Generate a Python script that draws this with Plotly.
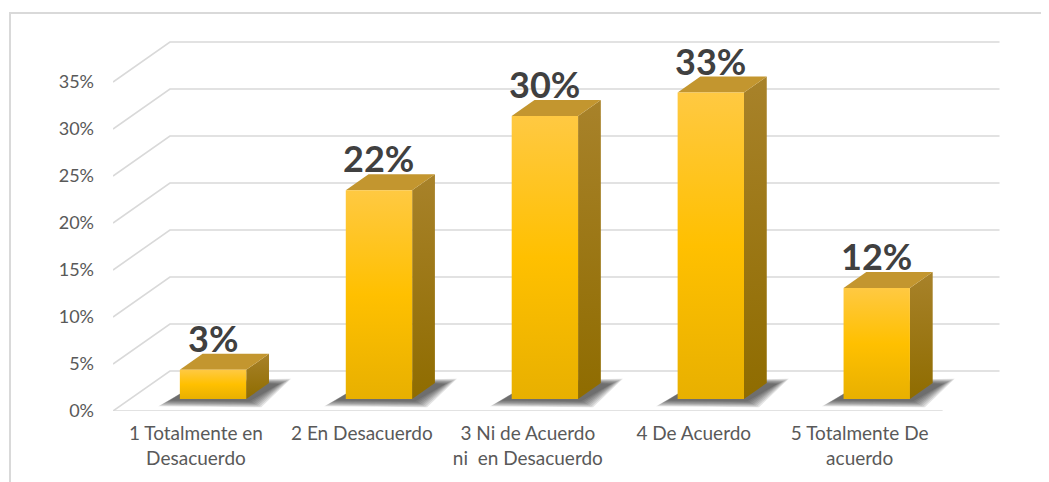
import plotly.graph_objects as go

# ---- data ----
categories = ["1 Totalmente en<br>Desacuerdo", "2 En Desacuerdo",
              "3 Ni de Acuerdo<br>ni  en Desacuerdo", "4 De Acuerdo",
              "5 Totalmente De<br>acuerdo"]
values = [3.1, 22.2, 30.1, 32.6, 11.8]          # percent
y_ticks = [0, 5, 10, 15, 20, 25, 30, 35]
y_tick_labels = [f"{v}%" for v in y_ticks]

# ---- 3D geometry (in axis units) ----
DX = 0.343        # depth offset along x (category units)
DY = 4.255        # depth offset along y (percent units)
BAR_W = 0.4       # bar width (fraction of a category)
D0, D1 = 0.3, 0.7 # bar depth span
n = len(categories)
XMAX = 5.4
YMAX = 40

FONT = "Lato"
TXT = "#595959"
GRID = "#d9d9d9"

fig = go.Figure()

# gridlines: diagonal on left wall + horizontal on back wall
gx, gy = [], []
for v in y_ticks:
    gx += [0, DX, n + DX, None]
    gy += [v, v + DY, v + DY, None]
gx += [0, n, None]
gy += [0, 0, None]
fig.add_trace(go.Scatter(x=gx, y=gy, mode="lines",
                         line=dict(color=GRID, width=1.6),
                         hoverinfo="skip", showlegend=False))

d = (D1 - D0) * DX
e = (D1 - D0) * DY
for i, v in enumerate(values):
    c = i + 0.5 + D0 * DX
    x0, x1 = c - BAR_W / 2, c + BAR_W / 2
    yb = D0 * DY
    yt = yb + v
    # soft (blurred) shadow on the floor
    for s in [0.07, 0.06, 0.05, 0.04, 0.03, 0.02, 0.01, 0.0]:
        sx = [x0 - 0.06 - s, x1 + 0.02 + s, x1 + 0.2 + s, x0 + d]
        sy = [yb - 0.15 - s * 9, yb - 0.25 - s * 9, yb + 1.6 + s * 8, yb + e + 0.3]
        fig.add_trace(go.Scatter(x=sx + [sx[0]], y=sy + [sy[0]], mode="lines",
                                 fill="toself", fillcolor="rgba(30,30,30,0.12)",
                                 line=dict(width=0), hoverinfo="skip",
                                 showlegend=False))
    # side face
    fig.add_trace(go.Scatter(
        x=[x1, x1 + d, x1 + d, x1, x1], y=[yb, yb + e, yt + e, yt, yb],
        mode="lines", fill="toself", line=dict(width=0),
        fillgradient=dict(type="vertical", start=yb, stop=yt + e,
                          colorscale=[[0, "#8f6c00"], [1, "#a8822a"]]),
        hoverinfo="skip", showlegend=False))
    # top face
    fig.add_trace(go.Scatter(
        x=[x0, x1, x1 + d, x0 + d, x0], y=[yt, yt, yt + e, yt + e, yt],
        mode="lines", fill="toself", fillcolor="#c3962f", line=dict(width=0),
        hoverinfo="skip", showlegend=False))
    # front face
    fig.add_trace(go.Scatter(
        x=[x0, x1, x1, x0, x0], y=[yb, yb, yt, yt, yb],
        mode="lines", fill="toself", line=dict(width=0),
        fillgradient=dict(type="vertical", start=yb, stop=yt,
                          colorscale=[[0, "#e8b000"], [0.5, "#ffc000"], [1, "#ffc942"]]),
        hoverinfo="skip", showlegend=False))
    # data label
    fig.add_annotation(x=c, y=yt + e, text=f"<b>{round(v):d}%</b>",
                       showarrow=False, yanchor="bottom", yshift=-8,
                       font=dict(family=FONT, size=36, color="#404040"))

# page body has an 8px margin: the figure itself starts at (8, 8)
OFF = 8
W, H = 1049 - OFF, 482 - OFF
L, T = 113 - OFF, 35 - OFF
R = W - (1009 - OFF)
B = H - (411 - OFF)
pw, ph = W - L - R, H - T - B

# outer chart border (extends beyond the visible page on right/bottom)
fig.add_shape(type="rect", xref="paper", yref="paper",
              x0=(10 - OFF - L) / pw, x1=(1070 - L) / pw,
              y0=(H - B - 520) / ph, y1=(H - B - (13 - OFF)) / ph,
              line=dict(color=GRID, width=2), fillcolor="rgba(0,0,0,0)")

fig.update_layout(
    width=W, height=H,
    margin=dict(l=L, r=R, t=T, b=B),
    paper_bgcolor="white", plot_bgcolor="white",
    font=dict(family=FONT, color=TXT, size=17),
    xaxis=dict(range=[0, XMAX], showgrid=False, zeroline=False, showline=False,
               tickvals=[i + 0.5 for i in range(n)], ticktext=categories,
               ticks="", tickfont=dict(size=19, color=TXT), ticklabelstandoff=9,
               fixedrange=True),
    yaxis=dict(range=[0, YMAX], showgrid=False, zeroline=False, showline=False,
               tickvals=y_ticks, ticktext=y_tick_labels, ticks="",
               tickfont=dict(size=18, color=TXT), ticklabelstandoff=18,
               fixedrange=True),
    showlegend=False,
)

fig.write_html("out.html")
